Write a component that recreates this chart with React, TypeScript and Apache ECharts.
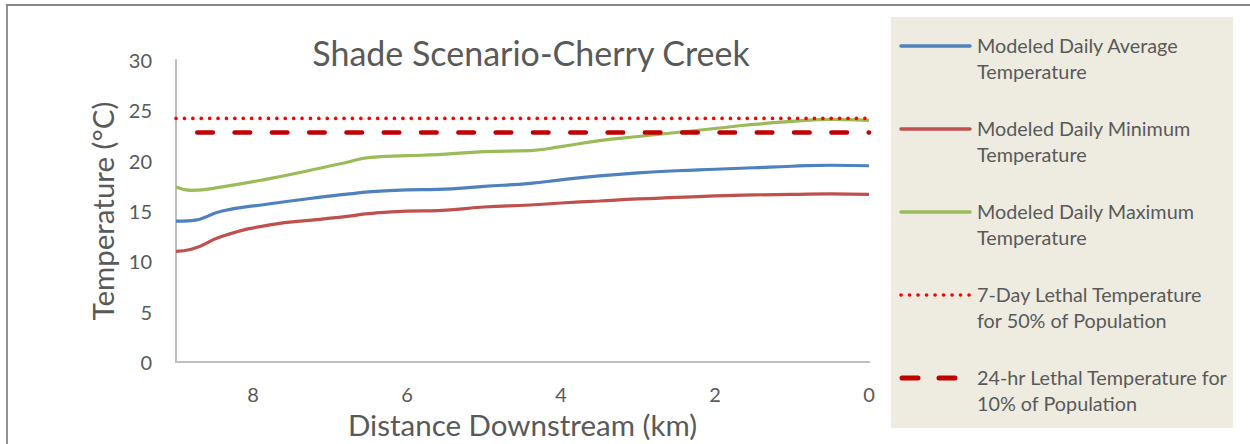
import React, { useEffect, useRef } from "react";
import * as echarts from "echarts";

const distances = [9.0, 8.8, 8.4, 7.8, 7.1, 6.75, 6.5, 6.0, 5.6, 5.0, 4.4, 4.0, 3.5, 3.0, 2.5, 2.0, 1.5, 1.0, 0.5, 0.0];
const avgTemp = [14.0, 14.05, 15.0, 15.7, 16.4, 16.7, 16.9, 17.1, 17.15, 17.45, 17.75, 18.1, 18.5, 18.8, 19.0, 19.15, 19.3, 19.45, 19.55, 19.5];
const minTemp = [11.0, 11.2, 12.5, 13.6, 14.2, 14.5, 14.75, 15.0, 15.05, 15.4, 15.6, 15.8, 16.0, 16.2, 16.35, 16.5, 16.6, 16.65, 16.7, 16.65];
const maxTemp = [17.4, 17.05, 17.4, 18.2, 19.3, 19.9, 20.3, 20.5, 20.6, 20.9, 21.0, 21.4, 22.0, 22.4, 22.8, 23.2, 23.6, 23.9, 24.1, 24.0];
const lethal7Day = 24.2;
const lethal24hr = 22.8;
const xRange = [0, 9];

const seriesNames = [
  "Modeled Daily Average\nTemperature",
  "Modeled Daily Minimum\nTemperature",
  "Modeled Daily Maximum\nTemperature",
  "7-Day Lethal Temperature\nfor 50% of Population",
  "24-hr Lethal Temperature for\n10% of Population",
];
const colors = ["#4F81BD", "#C0504D", "#9BBB59", "#FF0000", "#C00000"];

const FONT = "Lato, 'Noto Sans', sans-serif";
const TEXT = "#595959";

export default function App() {
  const ref = useRef<HTMLDivElement>(null);
  useEffect(() => {
    if (!ref.current) return;
    const chart = echarts.init(ref.current, null, { renderer: "svg" });
    const pair = (ys: number[]) => distances.map((d, i) => [d, ys[i]]);
    const flat = (v: number) => [[xRange[1], v], [xRange[0], v]];

    const dotted = { width: 3.6, type: [0.1, 8.3], cap: "round" };
    const dashed = { width: 4.6, type: [15.5, 21.8], dashOffset: 15.75, cap: "round" };

    const legendY = [46, 129, 212, 295, 378];
    const legendGraphics: any[] = [
      { type: "rect", shape: { x: 891, y: 17, width: 342, height: 411 }, style: { fill: "#EEECE1" }, silent: true },
    ];
    seriesNames.forEach((name, i) => {
      const y = legendY[i];
      let style: any = { stroke: colors[i], lineWidth: 3.5, lineCap: "round" };
      if (i === 3) style = { stroke: colors[i], lineWidth: 3.6, lineCap: "round", lineDash: [0.1, 8.4] };
      if (i === 4) style = { stroke: colors[i], lineWidth: 5, lineCap: "round", lineDash: [16, 21] };
      legendGraphics.push({ type: "line", shape: { x1: i === 4 ? 902 : 901, y1: y, x2: 970, y2: y }, style, silent: true });
      legendGraphics.push({
        type: "text",
        x: 977,
        y: y - 14,
        style: { text: name, fontSize: 19.8, fontFamily: FONT, fill: TEXT, lineHeight: 26, verticalAlign: "top", align: "left" },
        silent: true,
      });
    });

    chart.setOption({
      animation: false,
      backgroundColor: "#FFFFFF",
      grid: { left: 176, right: 381, top: 60, bottom: 81, containLabel: false },
      xAxis: {
        type: "value",
        min: xRange[0],
        max: xRange[1],
        interval: 2,
        inverse: true,
        name: "Distance Downstream (km)",
        nameLocation: "middle",
        nameGap: 45,
        nameTextStyle: { fontSize: 29.5, fontFamily: FONT, color: TEXT },
        axisLine: { show: true, onZero: false, lineStyle: { color: "#BFBFBF", width: 2 } },
        axisTick: { show: false },
        splitLine: { show: false },
        axisLabel: { showMaxLabel: false, fontSize: 20, fontFamily: FONT, color: TEXT, margin: 22 },
      },
      yAxis: {
        type: "value",
        min: 0,
        max: 30,
        interval: 5,
        name: "Temperature (°C)",
        nameLocation: "middle",
        nameGap: 51,
        nameTextStyle: { fontSize: 29.5, fontFamily: FONT, color: TEXT },
        axisLine: { show: true, onZero: false, lineStyle: { color: "#BFBFBF", width: 2 } },
        axisTick: { show: false },
        splitLine: { show: false },
        axisLabel: { fontSize: 20, fontFamily: FONT, color: TEXT, margin: 24 },
      },
      graphic: [
        { type: "line", shape: { x1: 6, y1: 5, x2: 1250, y2: 5 }, style: { stroke: "#868686", lineWidth: 1.8 }, silent: true },
        { type: "line", shape: { x1: 7, y1: 5, x2: 7, y2: 444 }, style: { stroke: "#868686", lineWidth: 1.8 }, silent: true },
        {
          type: "text",
          x: 531,
          y: 52,
          style: { text: "Shade Scenario-Cherry Creek", fontSize: 34, fontFamily: FONT, fill: TEXT, align: "center", verticalAlign: "middle" },
          silent: true,
        },
        ...legendGraphics,
      ],
      series: [
        { name: seriesNames[0], type: "line", smooth: true, symbol: "none", data: pair(avgTemp), lineStyle: { color: colors[0], width: 3.2 }, itemStyle: { color: colors[0] } },
        { name: seriesNames[1], type: "line", smooth: true, symbol: "none", data: pair(minTemp), lineStyle: { color: colors[1], width: 3.2 }, itemStyle: { color: colors[1] } },
        { name: seriesNames[2], type: "line", smooth: true, symbol: "none", data: pair(maxTemp), lineStyle: { color: colors[2], width: 3.2 }, itemStyle: { color: colors[2] } },
        { name: seriesNames[3], type: "line", symbol: "none", data: flat(lethal7Day), lineStyle: { color: colors[3], ...dotted }, itemStyle: { color: colors[3] } },
        { name: seriesNames[4], type: "line", symbol: "none", data: flat(lethal24hr), lineStyle: { color: colors[4], ...dashed }, itemStyle: { color: colors[4] } },
      ],
    });
    return () => chart.dispose();
  }, []);
  return <div ref={ref} style={{ position: "absolute", left: 0, top: 0, width: 1250, height: 444 }} />;
}
